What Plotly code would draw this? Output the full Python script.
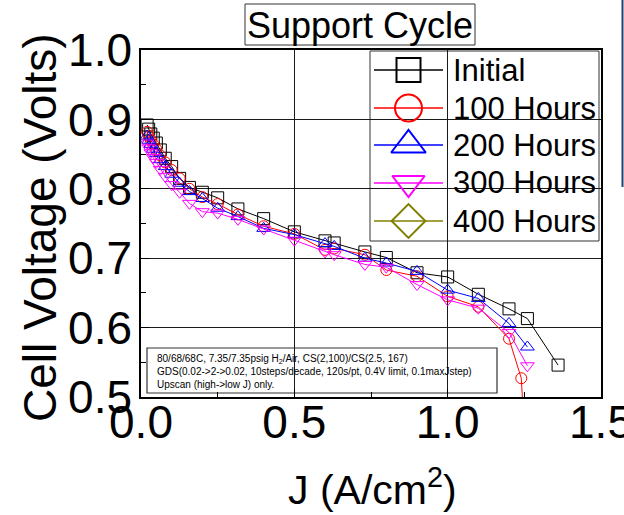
import plotly.graph_objects as go

# ---------------- data ----------------
J_initial = [0.02, 0.025, 0.032, 0.04, 0.05, 0.063, 0.079, 0.1, 0.126, 0.158, 0.2, 0.25,
             0.316, 0.4, 0.5, 0.6, 0.63, 0.73, 0.8, 0.9, 1.0, 1.1, 1.2, 1.26, 1.36]
V_initial = [0.892, 0.886, 0.879, 0.873, 0.866, 0.856, 0.844, 0.832, 0.815, 0.802, 0.795, 0.787,
             0.771, 0.757, 0.738, 0.725, 0.722, 0.709, 0.701, 0.679, 0.673, 0.648, 0.627, 0.613, 0.546]

J_100 = [0.02, 0.025, 0.032, 0.04, 0.05, 0.063, 0.079, 0.1, 0.126, 0.158, 0.2, 0.25,
         0.316, 0.4, 0.5, 0.6, 0.63, 0.73, 0.8, 0.9, 1.0, 1.1, 1.2, 1.24, 1.25]
V_100 = [0.882, 0.876, 0.870, 0.864, 0.857, 0.848, 0.838, 0.827, 0.815, 0.800, 0.788, 0.778,
         0.763, 0.746, 0.735, 0.712, 0.714, 0.705, 0.683, 0.674, 0.645, 0.630, 0.584, 0.527, 0.45]

J_200 = [0.02, 0.025, 0.032, 0.04, 0.05, 0.063, 0.079, 0.1, 0.126, 0.158, 0.2, 0.25,
         0.316, 0.4, 0.5, 0.6, 0.63, 0.73, 0.8, 0.9, 1.0, 1.1, 1.2, 1.26]
V_200 = [0.876, 0.870, 0.864, 0.857, 0.851, 0.842, 0.832, 0.821, 0.808, 0.796, 0.786, 0.772,
         0.760, 0.743, 0.734, 0.721, 0.717, 0.700, 0.693, 0.681, 0.654, 0.642, 0.606, 0.572]

J_300 = [0.02, 0.025, 0.032, 0.04, 0.05, 0.063, 0.079, 0.1, 0.126, 0.158, 0.2, 0.25,
         0.316, 0.4, 0.5, 0.6, 0.63, 0.73, 0.8, 0.9, 1.0, 1.1, 1.2, 1.26]
V_300 = [0.866, 0.859, 0.852, 0.845, 0.838, 0.828, 0.818, 0.806, 0.795, 0.779, 0.767, 0.765,
         0.756, 0.742, 0.726, 0.709, 0.705, 0.691, 0.687, 0.662, 0.640, 0.628, 0.593, 0.545]

J_400 = []
V_400 = []

series_names = ["Initial", "100 Hours", "200 Hours", "300 Hours", "400 Hours"]
series_colors = ["#000000", "#FF0000", "#0000FF", "#FF00FF", "#808000"]
series_symbols = ["square-open", "circle-open", "triangle-up-open", "triangle-down-open", "diamond-open"]
data_marker_sizes = [12, 11, 12, 12, 12]
legend_marker_sizes = [24, 27, 30, 28, 26]

x_tick_vals = [0.0, 0.5, 1.0, 1.5]
y_tick_vals = [0.5, 0.6, 0.7, 0.8, 0.9, 1.0]

note_lines = [
    "80/68/68C, 7.35/7.35psig H<sub>2</sub>/Air, CS(2,100)/CS(2.5, 167)",
    "GDS(0.02->2->0.02, 10steps/decade, 120s/pt, 0.4V limit, 0.1maxJstep)",
    "Upscan (high->low J) only.",
]

# ---------------- layout geometry (pixels) ----------------
W, H = 624, 515
L, R, T, B = 141, 601, 50, 397   # plot area box
FONT = "Liberation Sans, Arial, sans-serif"


def xp(px):
    return (px - L) / (R - L)


def yp(py):
    return (B - py) / (B - T)


fig = go.Figure()

all_J = [J_initial, J_100, J_200, J_300, J_400]
all_V = [V_initial, V_100, V_200, V_300, V_400]

for J, V, c, s, ms in zip(all_J, all_V, series_colors, series_symbols, data_marker_sizes):
    fig.add_trace(go.Scatter(
        x=J, y=V, mode="lines+markers",
        line=dict(color=c, width=1),
        marker=dict(symbol=s, size=ms, color=c, line=dict(width=1, color=c)),
        showlegend=False,
    ))

# ---------------- custom legend (in pixel-like overlay axes) ----------------
row_y = [70, 108, 145, 183, 221]
for name, c, s, ms, ry in zip(series_names, series_colors, series_symbols, legend_marker_sizes, row_y):
    fig.add_trace(go.Scatter(
        x=[374, 443], y=[ry, ry], mode="lines", line=dict(color=c, width=1.5),
        xaxis="x2", yaxis="y2", showlegend=False, hoverinfo="skip",
    ))
    fig.add_trace(go.Scatter(
        x=[408.5], y=[ry], mode="markers",
        marker=dict(symbol=s, size=ms, color=c, line=dict(width=2, color=c)),
        xaxis="x2", yaxis="y2", showlegend=False, hoverinfo="skip",
    ))

annotations = []
for name, ry in zip(series_names, row_y):
    annotations.append(dict(
        x=xp(451), y=yp(ry), xref="paper", yref="paper", text=name,
        xanchor="left", yanchor="middle", showarrow=False,
        font=dict(family=FONT, size=31, color="black"),
    ))

# title
annotations.append(dict(
    x=xp(360), y=yp(25), xref="paper", yref="paper", text="Support Cycle",
    xanchor="center", yanchor="middle", showarrow=False,
    font=dict(family=FONT, size=36, color="black"),
))

# axis titles
annotations.append(dict(
    x=xp(40), y=yp(228), xref="paper", yref="paper", text="Cell Voltage (Volts)",
    textangle=-90, xanchor="center", yanchor="middle", showarrow=False,
    font=dict(family=FONT, size=46, color="black"),
))
annotations.append(dict(
    x=xp(372), y=yp(487), xref="paper", yref="paper", text="J (A/cm<sup>2</sup>)",
    xanchor="center", yanchor="middle", showarrow=False,
    font=dict(family=FONT, size=41, color="black"),
))

# note text
annotations.append(dict(
    x=xp(155), y=yp(371), xref="paper", yref="paper", text="<br>".join(note_lines),
    xanchor="left", yanchor="middle", align="left", showarrow=False,
    font=dict(family=FONT, size=10, color="black"),
))

shapes = [
    # legend box
    dict(type="rect", xref="paper", yref="paper", x0=xp(370), x1=xp(599), y0=yp(241), y1=yp(51),
         line=dict(color="#333333", width=1), fillcolor="white", layer="below"),
    # note box
    dict(type="rect", xref="paper", yref="paper", x0=xp(147), x1=xp(497), y0=yp(393), y1=yp(348),
         line=dict(color="#333333", width=1.2), fillcolor="white", layer="below"),
    # title box
    dict(type="rect", xref="paper", yref="paper", x0=xp(245), x1=xp(475), y0=yp(45), y1=yp(4),
         line=dict(color="#333333", width=1), fillcolor="rgba(0,0,0,0)"),
    # stray vertical edge line at right
    dict(type="line", xref="paper", yref="paper", x0=xp(622.5), x1=xp(622.5), y0=yp(187), y1=yp(0),
         line=dict(color="#23416f", width=2)),
]

axis_common = dict(
    showline=True, linecolor="black", linewidth=1.5, mirror=True,
    ticks="inside", ticklen=8, tickwidth=1, tickcolor="black",
    showgrid=True, gridcolor="#1a1a1a", gridwidth=1, zeroline=False,
    tickfont=dict(family=FONT, size=46, color="black"),
    tickformat=".1f", ticklabeloverflow="allow", automargin=False,
)

fig.update_layout(
    width=W, height=H,
    margin=dict(l=L, r=W - R, t=T, b=H - B, pad=0, autoexpand=False),
    paper_bgcolor="white", plot_bgcolor="white",
    showlegend=False,
    xaxis=dict(range=[0, 1.5], tickvals=x_tick_vals, ticklabelstandoff=-16,
               minor=dict(tickvals=[0.25, 0.75, 1.25], ticks="inside", ticklen=5, tickcolor="black", showgrid=False),
               **axis_common),
    yaxis=dict(range=[0.5, 1.0], tickvals=y_tick_vals, ticklabelstandoff=-2,
               minor=dict(tickvals=[0.55, 0.65, 0.75, 0.85, 0.95], ticks="inside", ticklen=5, tickcolor="black", showgrid=False),
               **axis_common),
    xaxis2=dict(range=[L, R], overlaying="x", anchor="y2", visible=False),
    yaxis2=dict(range=[B, T], overlaying="y", anchor="x2", visible=False),
    annotations=annotations,
    shapes=shapes,
)

fig.write_html("out.html")
